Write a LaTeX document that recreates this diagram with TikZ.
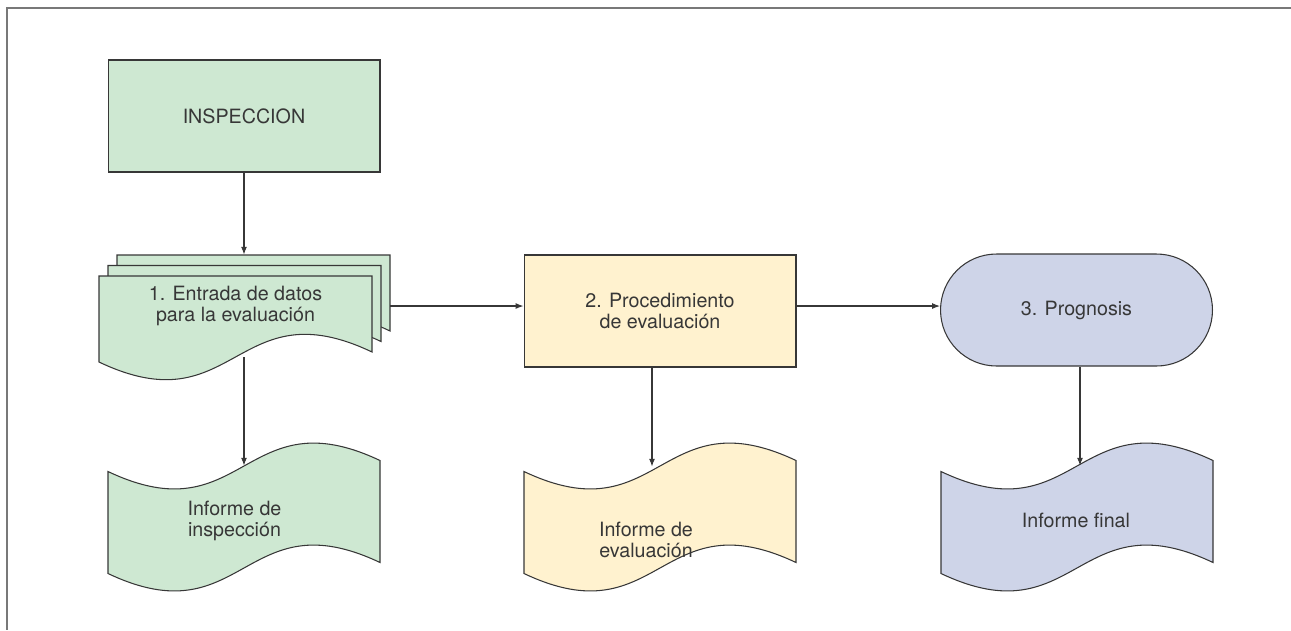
\documentclass[tikz,border=0pt]{standalone}
\usepackage{fontspec}
\setmainfont{TeX Gyre Heros}
\usetikzlibrary{arrows.meta}
\definecolor{verde}{RGB}{206,232,210}
\definecolor{amarillo}{RGB}{255,242,207}
\definecolor{azul}{RGB}{206,212,232}
\definecolor{linea}{RGB}{55,55,55}
\definecolor{marco}{RGB}{120,120,120}

\begin{document}
\begin{tikzpicture}[x=0.02cm, y=-0.02cm,
    texto/.style={inner sep=0pt, align=center, text=linea, font=\fontsize{11.2}{12.4}\selectfont},
    caja/.style={texto, draw=linea, line width=0.6pt, minimum width=5.44cm, minimum height=2.24cm},
    hoja/.style={draw=linea, line width=0.6pt},
    flecha/.style={draw=linea, line width=0.6pt, -{Latex[length=4.5pt,width=3.4pt]}}]
\useasboundingbox (0,0) rectangle (1291,630);
\draw[marco, line width=0.9pt] (1291,8) -- (7,8) -- (7,630);

\node[caja, fill=verde] (insp) at (244,116) {INSPECCION};

% tres hojas apiladas
\foreach \dx/\dy in {18/-21, 9/-10.5, 0/0}
    \filldraw[hoja, fill=verde, shift={(\dx,\dy)}] (99,276) -- (372,276) -- (372,352)
        .. controls (235.5,287) and (235.5,427) .. (99,362) -- cycle;
\node[texto, minimum width=6.18cm, minimum height=2.04cm] (datos) at (235.5,306) {1. Entrada de datos\\para la evaluación};

\node[caja, fill=amarillo] (proc) at (660,311) {2. Procedimiento\\de evaluación};
\node[caja, fill=azul, rounded corners=1.12cm] (prog) at (1076.5,310) {3. Prognosis};

% informes (hoja ondulada + texto; el alto del nodo deja north sobre la onda)
\foreach \cx/\tx/\ty/\h/\col/\nom/\txt in {244/234.5/521/2.2cm/verde/rinsp/{Informe de\\inspección},
        660/646/540/2.92cm/amarillo/reval/{Informe de\\evaluación},
        1077/1076/520/2.16cm/azul/rfinal/{Informe final}} {
    \filldraw[hoja, fill=\col] ({\cx-136},471.5) .. controls (\cx,536) and (\cx,396) .. ({\cx+136},460.5)
        -- ({\cx+136},562.5) .. controls (\cx,498) and (\cx,638) .. ({\cx-136},573.5) -- cycle;
    \node[texto, minimum height=\h] (\nom) at (\tx,\ty) {\txt};
}

\draw[flecha] (insp.south) -- (insp.south |- datos.north);
\draw[flecha] (insp.south |- datos.south) -- (insp.south |- rinsp.north);
\draw[flecha] (datos.east) -- (datos.east -| proc.west);
\draw[flecha] (proc.east |- datos.east) -- (prog.west |- datos.east);
\draw[flecha] ([xshift=-0.16cm]proc.south) -- ([xshift=-0.16cm]proc.south |- reval.north);
\draw[flecha] ([xshift=0.07cm]prog.south) -- ([xshift=0.07cm]prog.south |- rfinal.north);
\end{tikzpicture}
\end{document}
